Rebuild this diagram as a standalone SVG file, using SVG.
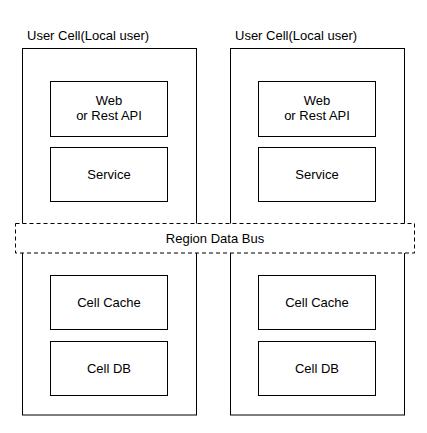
<svg xmlns="http://www.w3.org/2000/svg" width="427" height="433" viewBox="0 0 427 433">
<style>
.cell{fill:#fff;stroke:#000;stroke-width:1}
.box{fill:#fff;stroke:#000;stroke-width:1}
.bus{fill:#fff;stroke:#000;stroke-width:1;stroke-dasharray:4,3}
text{font-family:"Liberation Sans",Arial,sans-serif;font-size:13px;fill:#000}
.c{text-anchor:middle}
</style>
<rect width="427" height="433" fill="#fff"/>
<g id="cell-left">
<rect class="cell" x="22.5" y="48.5" width="174" height="366.5"/>
<text x="27" y="40">User Cell(Local user)</text>
</g>
<g id="cell-right">
<rect class="cell" x="230.5" y="48.5" width="174" height="366.5"/>
<text x="235" y="40">User Cell(Local user)</text>
</g>
<g id="web-left">
<rect class="box" x="50.5" y="81.5" width="117" height="55"/>
<text class="c" x="109" y="105">Web</text>
<text class="c" x="109" y="120">or Rest API</text>
</g>
<g id="service-left">
<rect class="box" x="50.5" y="147.5" width="117" height="54"/>
<text class="c" x="109" y="179">Service</text>
</g>
<g id="web-right">
<rect class="box" x="258.5" y="81.5" width="117" height="55"/>
<text class="c" x="317" y="105">Web</text>
<text class="c" x="317" y="120">or Rest API</text>
</g>
<g id="service-right">
<rect class="box" x="258.5" y="147.5" width="117" height="54"/>
<text class="c" x="317" y="179">Service</text>
</g>
<g id="cache-left">
<rect class="box" x="50.5" y="275.5" width="117" height="54"/>
<text class="c" x="109" y="307">Cell Cache</text>
</g>
<g id="db-left">
<rect class="box" x="50.5" y="341.5" width="117" height="54"/>
<text class="c" x="109" y="373">Cell DB</text>
</g>
<g id="cache-right">
<rect class="box" x="258.5" y="275.5" width="117" height="54"/>
<text class="c" x="317" y="307">Cell Cache</text>
</g>
<g id="db-right">
<rect class="box" x="258.5" y="341.5" width="117" height="54"/>
<text class="c" x="317" y="373">Cell DB</text>
</g>
<g id="region-data-bus">
<rect class="bus" x="15.5" y="223.5" width="399" height="29.5"/>
<text class="c" x="215" y="243">Region Data Bus</text>
</g>
<g id="connectors"></g>
</svg>
